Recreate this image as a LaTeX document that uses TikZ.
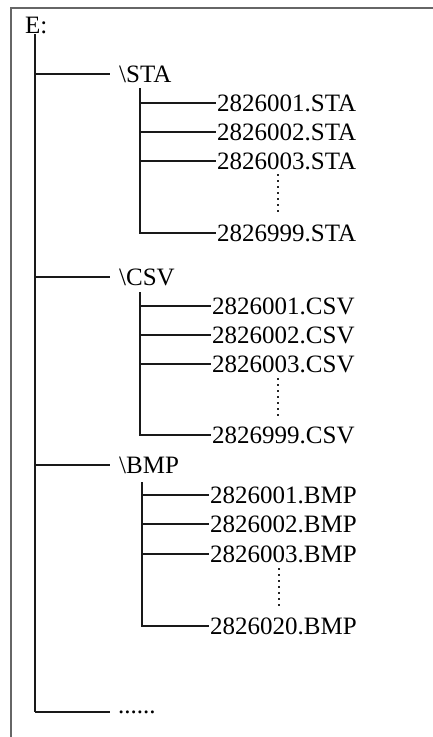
\documentclass[tikz,border=0pt]{standalone}
\usepackage{fontspec}
\setmainfont{Liberation Serif}
\tikzset{
  lbl/.style={font=\fontsize{25}{29}\selectfont, inner xsep=0pt, inner ysep=0pt,
              text height=16.5pt, text depth=0pt, anchor=west},
  moredots/.style={font=\fontsize{25}{29}\selectfont, inner xsep=0pt, inner ysep=0pt,
              text height=2pt, text depth=0pt, anchor=west},
  tree/.style={line width=1.5pt, black!90},
  frameline/.style={line width=1.8pt, black!60},
  vdots/.style={line width=2pt, dash pattern=on 2pt off 4pt, black!85}
}
\begin{document}
\begin{tikzpicture}[x=1pt,y=-1pt]
\useasboundingbox (0,0) rectangle (433,737);
% frame
\draw[frameline] (433,8) -- (11,8) -- (11,737);
% root
\node[lbl] (E) at (25,25) {E:};
\coordinate (top) at (35,34);
\coordinate (bot) at (35,712);
\draw[tree] (top) -- (bot);
% folders
\node[lbl] (sta) at (119,74) {\textbackslash STA};
\node[lbl] (csv) at (119,277) {\textbackslash CSV};
\node[lbl] (bmp) at (119,465) {\textbackslash BMP};
\coordinate (bsta) at (35,74);
\coordinate (bcsv) at (35,277);
\coordinate (bbmp) at (35,465);
\draw[tree] (bsta) -- ([xshift=-9pt]sta.west);
\draw[tree] (bcsv) -- ([xshift=-9pt]csv.west);
\draw[tree] (bbmp) -- ([xshift=-9pt]bmp.west);
% STA files
\node[lbl] (s1) at (217,103) {2826001.STA};
\node[lbl] (s2) at (217,132) {2826002.STA};
\node[lbl] (s3) at (217,161) {2826003.STA};
\node[lbl] (s4) at (217,233) {2826999.STA};
\coordinate (stop) at (140,88);
\coordinate (sbot) at (140,233);
\draw[tree] (stop) -- (sbot) -- ([xshift=-1.5pt]s4.west);
\draw[tree] (stop |- s1.west) -- ([xshift=-1.5pt]s1.west);
\draw[tree] (stop |- s2.west) -- ([xshift=-1.5pt]s2.west);
\draw[tree] (stop |- s3.west) -- ([xshift=-1.5pt]s3.west);
\coordinate (sd1) at (278,174);
\coordinate (sd2) at (278,213);
\draw[vdots] (sd1) -- (sd2);
% CSV files
\node[lbl] (c1) at (212,306) {2826001.CSV};
\node[lbl] (c2) at (212,335) {2826002.CSV};
\node[lbl] (c3) at (212,364) {2826003.CSV};
\node[lbl] (c4) at (212,435) {2826999.CSV};
\coordinate (ctop) at (140,292);
\coordinate (cbot) at (140,435);
\draw[tree] (ctop) -- (cbot) -- ([xshift=-1.5pt]c4.west);
\draw[tree] (ctop |- c1.west) -- ([xshift=-1.5pt]c1.west);
\draw[tree] (ctop |- c2.west) -- ([xshift=-1.5pt]c2.west);
\draw[tree] (ctop |- c3.west) -- ([xshift=-1.5pt]c3.west);
\coordinate (cd1) at (278,378);
\coordinate (cd2) at (278,416);
\draw[vdots] (cd1) -- (cd2);
% BMP files
\node[lbl] (m1) at (210,495) {2826001.BMP};
\node[lbl] (m2) at (210,524) {2826002.BMP};
\node[lbl] (m3) at (210,554) {2826003.BMP};
\node[lbl] (m4) at (210,626) {2826020.BMP};
\coordinate (mtop) at (142,482);
\coordinate (mbot) at (142,626);
\draw[tree] (mtop) -- (mbot) -- ([xshift=-1.5pt]m4.west);
\draw[tree] (mtop |- m1.west) -- ([xshift=-1.5pt]m1.west);
\draw[tree] (mtop |- m2.west) -- ([xshift=-1.5pt]m2.west);
\draw[tree] (mtop |- m3.west) -- ([xshift=-1.5pt]m3.west);
\coordinate (md1) at (279,568);
\coordinate (md2) at (279,607);
\draw[vdots] (md1) -- (md2);
% more
\node[moredots] (more) at (118,712) {......};
\draw[tree] (bot) -- ([xshift=-8pt]more.west);
\end{tikzpicture}
\end{document}
